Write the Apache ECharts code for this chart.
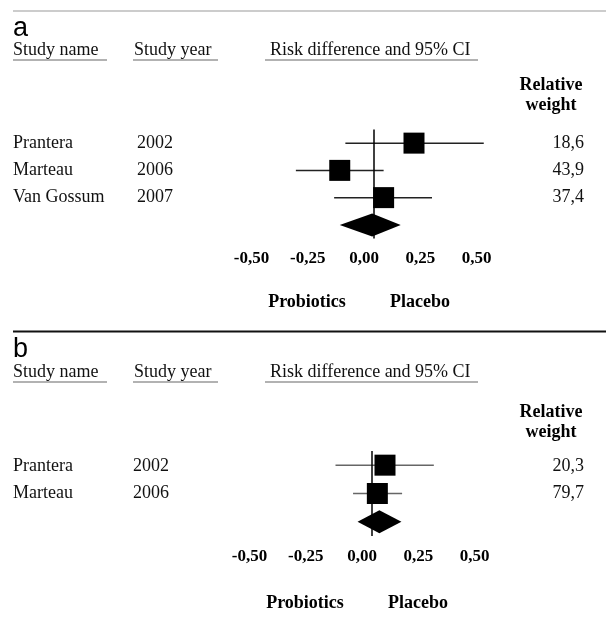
<!DOCTYPE html>
<html><head><meta charset="utf-8">
<script src="https://cdn.jsdelivr.net/npm/echarts@6/dist/echarts.min.js"></script>
<style>html,body{margin:0;padding:0;background:#fff}#c{width:606px;height:630px}</style>
</head><body><div id="c"></div>
<script>
// ---- data ----
const tickValues = [-0.5, -0.25, 0, 0.25, 0.5];
const tickLabels = ['-0,50', '-0,25', '0,00', '0,25', '0,50'];

const studiesA = ['Prantera', 'Marteau', 'Van Gossum'];
const yearsA = ['2002', '2006', '2007'];
const estA = [0.18, -0.15, 0.045];
const lowA = [-0.125, -0.345, -0.175];
const highA = [0.49, 0.045, 0.26];
const weightsA = ['18,6', '43,9', '37,4'];
const pooledA = [-0.15, -0.006, 0.121]; // low, est, high

const studiesB = ['Prantera', 'Marteau'];
const yearsB = ['2002', '2006'];
const estB = [0.06, 0.026];
const lowB = [-0.16, -0.082];
const highB = [0.277, 0.136];
const weightsB = ['20,3', '79,7'];
const pooledB = [-0.062, 0.035, 0.133];

// ---- chart ----
const SERIF = '"Liberation Serif", "Times New Roman", serif';
const chart = echarts.init(document.getElementById('c'), null, {renderer: 'canvas'});

function fmt(v) {
  const i = tickValues.findIndex(t => Math.abs(t - v) < 1e-9);
  return i >= 0 ? tickLabels[i] : '';
}

function xAxisFor(gi) {
  return {
    gridIndex: gi, type: 'value', min: -0.5, max: 0.5, interval: 0.25,
    axisLine: {show: false}, axisTick: {show: false}, splitLine: {show: false},
    axisLabel: {formatter: fmt, fontFamily: SERIF, fontWeight: 'bold', fontSize: 17,
      color: '#000', margin: 12, padding: [0, 19, 0, 0]}
  };
}
function yAxisFor(gi, cats) {
  return {gridIndex: gi, type: 'category', data: cats, inverse: true,
    axisLine: {show: false}, axisTick: {show: false}, axisLabel: {show: false}, splitLine: {show: false}};
}

function panelSeries(gi, est, low, high, pooled, lineColor) {
  const n = est.length;
  const ciData = est.map((_, i) => [low[i], high[i], i]);
  return [
    {
      type: 'custom', xAxisIndex: gi, yAxisIndex: gi, z: 2,
      data: ciData,
      renderItem: (params, api) => {
        const a = api.coord([api.value(0), api.value(2)]);
        const b = api.coord([api.value(1), api.value(2)]);
        return {type: 'line', shape: {x1: a[0], y1: a[1], x2: b[0], y2: b[1]},
          style: {stroke: lineColor, lineWidth: 1.5}};
      },
      markLine: {silent: true, symbol: 'none', label: {show: false},
        lineStyle: {color: '#000', width: 1.5, type: 'solid', opacity: 1},
        data: [{xAxis: 0}]}
    },
    {
      type: 'scatter', xAxisIndex: gi, yAxisIndex: gi, z: 4,
      symbol: 'rect', symbolSize: 21, itemStyle: {color: '#000', opacity: 1},
      data: est.map((v, i) => [v, i])
    },
    {
      type: 'custom', xAxisIndex: gi, yAxisIndex: gi, z: 4,
      data: [[pooled[0], pooled[1], pooled[2], n]],
      renderItem: (params, api) => {
        const l = api.coord([api.value(0), api.value(3)]);
        const m = api.coord([api.value(1), api.value(3)]);
        const r = api.coord([api.value(2), api.value(3)]);
        const h = 11.5;
        return {type: 'polygon', shape: {points: [[l[0], l[1]], [m[0], m[1] - h], [r[0], r[1]], [m[0], m[1] + h]]},
          style: {fill: '#000'}};
      }
    }
  ];
}

const g = [];
function txt(text, x, y, opts) {
  g.push({type: 'text', x: x, y: y, silent: true, style: Object.assign({
    text: text, font: '18px ' + SERIF, fill: '#111', textAlign: 'left', textVerticalAlign: 'middle'}, opts || {})});
}
function hline(x1, x2, y, color, w) {
  g.push({type: 'line', silent: true, shape: {x1: x1, y1: y, x2: x2, y2: y}, style: {stroke: color, lineWidth: w}});
}

function panelText(letter, lineY, lineColor, lineW, headY, yearX, rowYs, names, years, weights, relY, probY, probX, plaX) {
  hline(13, 606, lineY, lineColor, lineW);
  txt(letter, 13, lineY + 18, {font: '27px "Liberation Sans", Arial, sans-serif', fill: '#000'});
  txt('Study name', 13, headY);
  hline(13, 107, headY + 10, '#666', 1.2);
  txt('Study year', 134, headY);
  hline(133, 218, headY + 10, '#666', 1.2);
  txt('Risk difference and 95% CI', 270, headY);
  hline(265, 478, headY + 10, '#666', 1.2);
  txt('Relative', 551, relY, {font: 'bold 18px ' + SERIF, textAlign: 'center', fill: '#000'});
  txt('weight', 551, relY + 20, {font: 'bold 18px ' + SERIF, textAlign: 'center', fill: '#000'});
  names.forEach((nm, i) => {
    txt(nm, 13, rowYs[i]);
    txt(years[i], yearX, rowYs[i]);
    txt(weights[i], 584, rowYs[i], {textAlign: 'right'});
  });
  txt('Probiotics', probX, probY, {font: 'bold 18px ' + SERIF, textAlign: 'center', fill: '#000'});
  txt('Placebo', plaX, probY, {font: 'bold 18px ' + SERIF, textAlign: 'center', fill: '#000'});
}

panelText('a', 11, '#9a9a9a', 1.2, 50, 137, [143, 170, 197], studiesA, yearsA, weightsA, 85, 302, 307, 420);
panelText('b', 331.5, '#111', 2, 372, 133, [466, 493], studiesB, yearsB, weightsB, 412, 603, 305, 418);

chart.setOption({
  animation: false,
  backgroundColor: '#fff',
  grid: [
    {left: 261, width: 225, top: 129.5, height: 109},
    {left: 259, width: 225, top: 451, height: 85}
  ],
  xAxis: [xAxisFor(0), xAxisFor(1)],
  yAxis: [yAxisFor(0, studiesA.concat(['Pooled'])), yAxisFor(1, studiesB.concat(['Pooled']))],
  series: panelSeries(0, estA, lowA, highA, pooledA, '#222').concat(panelSeries(1, estB, lowB, highB, pooledB, '#666')),
  graphic: g
});
</script></body></html>
